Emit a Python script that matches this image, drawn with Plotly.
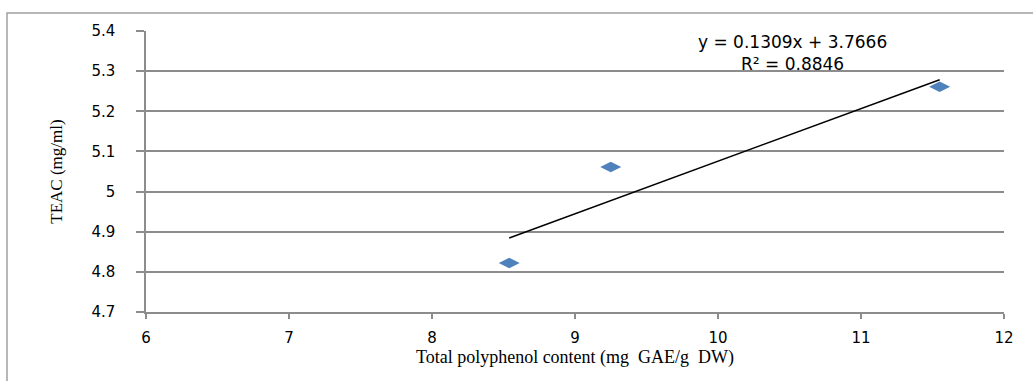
import plotly.graph_objects as go

# Data
tpc = [8.54, 9.25, 11.55]          # Total polyphenol content (mg GAE/g DW)
teac = [4.822, 5.061, 5.261]       # TEAC (mg/ml)
slope = 0.1309
intercept = 3.7666
r2 = 0.8846
x_ticks = [6, 7, 8, 9, 10, 11, 12]
y_ticks = [4.7, 4.8, 4.9, 5.0, 5.1, 5.2, 5.3, 5.4]

trend_x = [min(tpc), max(tpc)]
trend_y = [slope * v + intercept for v in trend_x]

fig = go.Figure()
fig.add_trace(go.Scatter(
    x=trend_x, y=trend_y, mode="lines",
    line=dict(color="black", width=1.5), hoverinfo="skip", showlegend=False))
fig.add_trace(go.Scatter(
    x=tpc, y=teac, mode="markers",
    marker=dict(symbol="diamond-wide", size=15, color="#4F81BD",
                line=dict(width=0)),
    showlegend=False))

tick_font = dict(family="DejaVu Sans", size=15, color="black")
fig.update_layout(
    width=1033, height=381,
    margin=dict(l=146, r=29, t=31, b=69),
    paper_bgcolor="white", plot_bgcolor="white",
    xaxis=dict(range=[6, 12], tickvals=x_ticks,
               ticktext=[str(v) for v in x_ticks],
               showgrid=False, zeroline=False,
               showline=True, linecolor="#8c8c8c", linewidth=1.5,
               ticks="outside", ticklen=5, tickcolor="#8c8c8c", tickwidth=1.5,
               ticklabelstandoff=6,
               tickfont=tick_font,
               title=dict(text="Total polyphenol content (mg  GAE/g  DW)",
                          font=dict(family="Liberation Serif", size=18, color="black"),
                          standoff=0)),
    yaxis=dict(range=[4.7, 5.4], tickvals=y_ticks,
               ticktext=[("%.1f" % v).rstrip("0").rstrip(".") for v in y_ticks],
               showgrid=True, gridcolor="#8c8c8c", gridwidth=1.5,
               zeroline=False,
               showline=True, linecolor="#8c8c8c", linewidth=1.5,
               ticks="outside", ticklen=8, tickcolor="#8c8c8c", tickwidth=1.5,
               ticklabelstandoff=18,
               tickfont=tick_font,
               title=dict(text="TEAC (mg/ml)",
                          font=dict(family="Liberation Serif", size=17, color="black"),
                          standoff=24)),
    shapes=[dict(type="rect", xref="paper", yref="paper",
                 x0=-0.162, x1=1.2, y0=-0.5, y1=1.064,
                 line=dict(color="#a0a0a0", width=1.5), layer="below")],
    annotations=[
        dict(x=0.754, y=1.004, xref="paper", yref="paper",
             text="y = %.4fx + %.4f<br>R² = %.4f" % (slope, intercept, r2),
             showarrow=False, align="center",
             xanchor="center", yanchor="top",
             font=dict(family="DejaVu Sans", size=17, color="black"))
    ],
)

fig.write_html("out.html")
